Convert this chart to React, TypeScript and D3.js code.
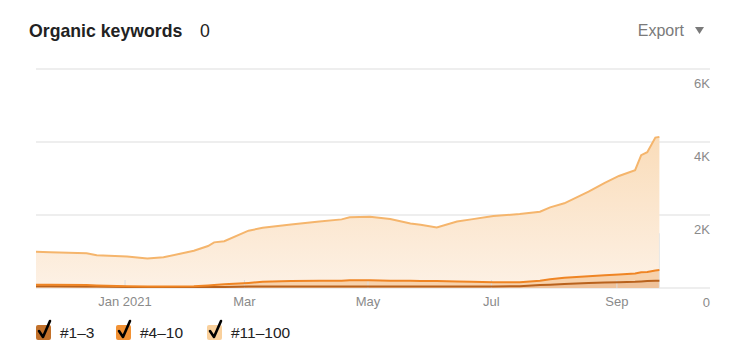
import React from 'react';
import * as d3 from 'd3';

// sample dates (data ends Sep 22 2021)
const dates = [
  '2020-11-18', '2020-11-25', '2020-12-13', '2020-12-18', '2021-01-02', '2021-01-12', '2021-01-20',
  '2021-02-04', '2021-02-11', '2021-02-14', '2021-02-19', '2021-03-03', '2021-03-10', '2021-03-24',
  '2021-04-07', '2021-04-18', '2021-04-22', '2021-05-02', '2021-05-12', '2021-05-22', '2021-05-27',
  '2021-06-04', '2021-06-14', '2021-06-21', '2021-07-02', '2021-07-15', '2021-07-25', '2021-07-30',
  '2021-08-06', '2021-08-18', '2021-08-26', '2021-09-02', '2021-09-10', '2021-09-13', '2021-09-16',
  '2021-09-20', '2021-09-22',
];

// keywords per position bucket (stacked)
const pos1to3 = [50, 50, 40, 40, 30, 30, 30, 30, 30, 30, 30, 40, 40, 40, 40, 40, 40, 40, 40, 40, 40, 40, 40, 40, 40, 50, 80, 90, 110, 140, 150, 160, 170, 180, 190, 200, 200];
const pos4to10 = [40, 40, 40, 30, 20, 10, 10, 20, 40, 50, 70, 100, 130, 150, 160, 160, 170, 170, 160, 160, 150, 150, 140, 130, 120, 110, 120, 150, 170, 180, 200, 210, 230, 250, 250, 280, 290];
const pos11to100 = [900, 890, 870, 830, 810, 770, 800, 970, 1080, 1170, 1180, 1430, 1480, 1550, 1620, 1680, 1730, 1740, 1690, 1570, 1540, 1470, 1640, 1710, 1810, 1870, 1890, 1970, 2040, 2320, 2530, 2700, 2830, 3210, 3280, 3640, 3650];

const yTicks = [0, 2000, 4000, 6000];
const xTickDates = ['2021-01-01', '2021-03-01', '2021-05-01', '2021-07-01', '2021-09-01'];
const xTickLabels = ['Jan 2021', 'Mar', 'May', 'Jul', 'Sep'];

const legendLabels = ['#1–3', '#4–10', '#11–100'];
const legendColors = ['#c2712b', '#f29235', '#f9d09c'];

const parse = d3.timeParse('%Y-%m-%d');
const FONT = '"Liberation Sans", Arial, Helvetica, sans-serif';

export default function App() {
  const left = 36;
  const right = 710;
  const top = 69;
  const bottom = 288;

  const x = d3.scaleTime()
    .domain([parse('2020-11-18')!, parse('2021-10-17')!])
    .range([left, right]);
  const y = d3.scaleLinear().domain([0, 6000]).range([bottom, top]);

  const rows = dates.map((d, i) => ({
    date: parse(d)!,
    a: pos1to3[i],
    b: pos4to10[i],
    c: pos11to100[i],
  }));
  const stacked = d3.stack<any>().keys(['a', 'b', 'c'])(rows);

  const area = d3.area<any>()
    .x((d) => x(d.data.date))
    .y0((d) => y(d[0]))
    .y1((d) => y(d[1]));
  const line = d3.line<any>()
    .x((d) => x(d.data.date))
    .y((d) => y(d[1]));

  const fills = ['#efc29a', '#f7d2ac', 'url(#topFill)'];
  const strokes = ['#b9621d', '#ef8524', '#f5b56c'];
  const lastX = x(rows[rows.length - 1].date);

  return (
    <svg width={744} height={352} style={{ position: 'absolute', left: 0, top: 0, background: '#fff' }}>
      <defs>
        <linearGradient id="topFill" gradientUnits="userSpaceOnUse" x1={0} y1={top} x2={0} y2={bottom}>
          <stop offset="0%" stopColor="#f8d3a6" />
          <stop offset="100%" stopColor="#fdf1e5" />
        </linearGradient>
      </defs>

      <text x={29} y={37} fontFamily={FONT} fontSize={17.7} fontWeight="bold" fill="#222">Organic keywords</text>
      <text x={200} y={37} fontFamily={FONT} fontSize={17.7} fill="#222">0</text>
      <text x={684} y={36} fontFamily={FONT} fontSize={16} fill="#7a7a7a" textAnchor="end">Export</text>
      <path d="M695,27 L704,27 L699.5,34 Z" fill="#7a7a7a" />

      {/* grid */}
      {yTicks.map((t) => (
        <g key={t}>
          <line x1={left} x2={right} y1={y(t)} y2={y(t)} stroke="#e9e9e9" strokeWidth={1.5} />
          <text x={right} y={y(t) + 19} textAnchor="end" fontFamily={FONT} fontSize={13} fill="#8a8a8a">
            {t === 0 ? '0' : `${t / 1000}K`}
          </text>
        </g>
      ))}

      {/* areas */}
      {stacked.slice().reverse().map((s) => (
        <path key={s.key} d={area(s) || ''} fill={fills[s.index]} />
      ))}
      <line x1={lastX} x2={lastX} y1={y(1500)} y2={bottom} stroke="#e6e6e6" strokeWidth={1} />

      {/* x ticks */}
      {xTickDates.map((d, i) => {
        const xx = x(parse(d)!);
        return (
          <g key={d}>
            <line x1={xx} x2={xx} y1={bottom - 8} y2={bottom} stroke="#dcdcdc" strokeWidth={1} />
            <text x={xx} y={306} textAnchor="middle" fontFamily={FONT} fontSize={13} fill="#8a8a8a">
              {xTickLabels[i]}
            </text>
          </g>
        );
      })}

      {/* lines */}
      {stacked.map((s) => (
        <path key={s.key} d={line(s) || ''} fill="none" stroke={strokes[s.index]} strokeWidth={2} />
      ))}

      {/* legend */}
      {legendLabels.map((lab, i) => {
        const lx = [36, 116, 207][i];
        return (
          <g key={lab}>
            <rect x={lx} y={325} width={15} height={15} rx={2} fill={legendColors[i]} />
            <path d={`M${lx + 3},${331} L${lx + 7},${337} L${lx + 14},${321}`} fill="none" stroke="#000" strokeWidth={2.6} strokeLinecap="round" strokeLinejoin="round" />
            <text x={lx + 24} y={338} fontFamily={FONT} fontSize={15.5} fill="#222">{lab}</text>
          </g>
        );
      })}
    </svg>
  );
}
